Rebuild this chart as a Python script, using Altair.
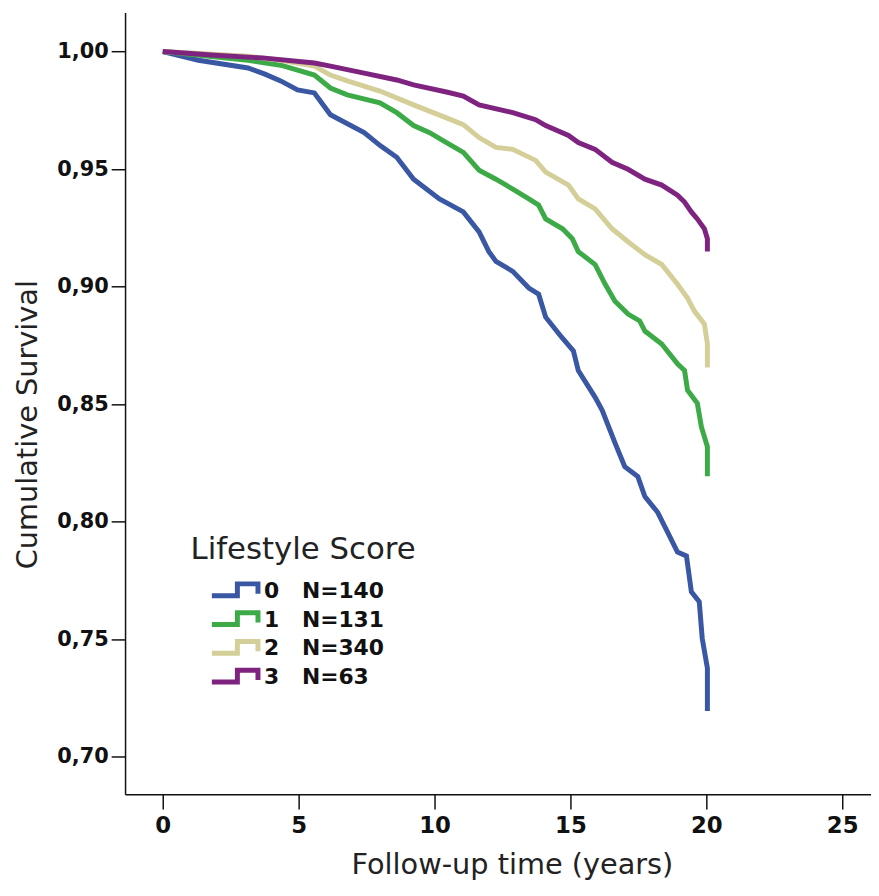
import altair as alt
import pandas as pd

# ---- data ----
scores = ["0", "1", "2", "3"]
n_counts = [140, 131, 340, 63]
colors = ["#3A57A3", "#3DAA48", "#D4CF98", "#7E237F"]

t0 = [0, 1.31, 3.14, 3.76, 4.34, 4.96, 5.58, 6.17, 7.41, 8.0, 8.61, 9.23, 10.18, 11.06, 11.64, 12.0,
      12.26, 12.88, 13.47, 13.83, 14.09, 14.67, 15.11, 15.29, 15.91, 16.17, 16.64, 17.0, 17.48, 17.74,
      18.21, 18.58, 18.94, 19.27, 19.45, 19.74, 19.85, 20.04, 20.04]
s0 = [1.0, 0.9963, 0.993, 0.9904, 0.9875, 0.9837, 0.9824, 0.9731, 0.9655, 0.960, 0.955, 0.9457, 0.9373,
      0.9318, 0.9233, 0.9149, 0.9107, 0.9065, 0.8994, 0.8968, 0.887, 0.8786, 0.8727, 0.8643, 0.8529,
      0.8474, 0.8335, 0.8234, 0.8192, 0.8107, 0.804, 0.7955, 0.7871, 0.7854, 0.7702, 0.766, 0.7504,
      0.7377, 0.7195]

t1 = [0, 3.14, 4.34, 5.58, 6.17, 6.79, 7.99, 8.61, 9.23, 9.82, 10.44, 11.06, 11.64, 12.26, 12.88, 13.47,
      13.83, 14.09, 14.71, 15.07, 15.29, 15.91, 16.28, 16.64, 17.12, 17.55, 17.74, 18.36, 18.94, 19.2,
      19.31, 19.67, 19.82, 20.04, 20.04]
s1 = [1.0, 0.9963, 0.9942, 0.99, 0.9845, 0.9816, 0.9782, 0.974, 0.9685, 0.9655, 0.9613, 0.9571, 0.9495,
      0.9457, 0.9415, 0.9373, 0.9347, 0.9288, 0.9246, 0.9204, 0.9149, 0.9094, 0.901, 0.8938, 0.8883,
      0.8854, 0.8811, 0.8756, 0.8672, 0.8643, 0.8559, 0.8504, 0.8403, 0.8319, 0.8193]

t2 = [0, 3.14, 4.34, 5.58, 6.17, 6.79, 7.99, 9.23, 10.44, 11.06, 11.64, 12.26, 12.88, 13.72, 14.09, 14.93,
      15.29, 15.91, 16.53, 17.12, 17.74, 18.36, 18.94, 19.31, 19.56, 19.93, 20.04, 20.04]
s2 = [1.0, 0.998, 0.9963, 0.9938, 0.99, 0.9875, 0.9832, 0.9773, 0.9718, 0.9689, 0.9634, 0.9592, 0.9584,
      0.9537, 0.9487, 0.9432, 0.9373, 0.9331, 0.9246, 0.9191, 0.9136, 0.9094, 0.901, 0.8951, 0.8896,
      0.8841, 0.8757, 0.8656]

t3 = [0, 1.93, 3.76, 5.58, 6.17, 7.41, 8.61, 9.23, 10.44, 11.06, 11.64, 12.88, 13.72, 14.09, 14.93, 15.29,
      15.91, 16.53, 17.12, 17.74, 18.36, 18.94, 19.2, 19.45, 19.67, 19.93, 20.04, 20.04]
s3 = [1.0, 0.9984, 0.9972, 0.9951, 0.9938, 0.9908, 0.9879, 0.9858, 0.9828, 0.9811, 0.9773, 0.974, 0.971,
      0.9685, 0.9643, 0.9613, 0.9584, 0.9529, 0.9499, 0.9457, 0.9432, 0.9389, 0.936, 0.9318, 0.9288,
      0.9246, 0.9204, 0.9149]

x_ticks = [0, 5, 10, 15, 20, 25]
y_ticks = [0.70, 0.75, 0.80, 0.85, 0.90, 0.95, 1.00]

# ---- table ----
rows = []
idx = 0
for sc, ts, ss in zip(scores, [t0, t1, t2, t3], [s0, s1, s2, s3]):
    for t, s in zip(ts, ss):
        rows.append({"score": sc, "time": t, "surv": s, "idx": idx})
        idx += 1
df = pd.DataFrame(rows)

NB = "\u00a0"
label_map = ", ".join(
    f"'{sc}': '{sc}{NB*3}N={n}'" for sc, n in zip(scores, n_counts)
)
label_expr = "{" + label_map + "}[datum.label]"

step_symbol = "M-1,0.2H0.03V-0.28H0.86V0.12"

chart = (
    alt.Chart(df)
    .mark_line(strokeWidth=5, strokeJoin="miter", strokeCap="butt", clip=False)
    .encode(
        x=alt.X(
            "time:Q",
            scale=alt.Scale(domain=[-1.387, 26.06], nice=False, zero=False),
            axis=alt.Axis(
                values=x_ticks,
                title="Follow-up time (years)",
                grid=False,
                domainColor="#111", domainWidth=1.5,
                tickColor="#111", tickWidth=1.5, tickSize=15,
                labelFont="DejaVu Sans", labelFontWeight="bold", labelFontSize=23,
                labelColor="#111", labelPadding=6, labelFlush=False, labelOverlap=False,
                titleFont="DejaVu Sans", titleFontWeight="normal", titleFontSize=29,
                titleColor="#222", titleX=390, titleY=80, titleBaseline="alphabetic",
                titleAlign="center",
            ),
        ),
        y=alt.Y(
            "surv:Q",
            scale=alt.Scale(domain=[0.6841, 1.0166], nice=False, zero=False),
            axis=alt.Axis(
                values=y_ticks,
                labelExpr="replace(format(datum.value, '.2f'), '.', ',')",
                title="Cumulative Survival",
                grid=False,
                domainColor="#111", domainWidth=1.5,
                tickColor="#111", tickWidth=1.5, tickSize=14,
                labelFont="DejaVu Sans", labelFontWeight="bold", labelFontSize=21,
                labelColor="#111", labelPadding=3, labelFlush=False, labelOverlap=False,
                titleFont="DejaVu Sans", titleFontWeight="normal", titleFontSize=29,
                titleColor="#222", titleX=-98, titleY=415, titleBaseline="middle",
                titleAlign="center", titleAngle=270,
            ),
        ),
        color=alt.Color(
            "score:N",
            scale=alt.Scale(domain=scores, range=colors),
            legend=alt.Legend(
                title="Lifestyle Score",
                orient="none", legendX=66, legendY=527, padding=0,
                direction="vertical",
                titleFont="DejaVu Sans", titleFontSize=31, titleFontWeight="normal",
                titleColor="#222", titlePadding=14, titleLimit=400,
                labelFont="DejaVu Sans", labelFontSize=22, labelFontWeight="bold",
                labelColor="#111", labelLimit=400, labelExpr=label_expr,
                symbolType=step_symbol, symbolSize=2500, symbolStrokeWidth=5,
                symbolFillColor="transparent",
                symbolOffset=19, labelOffset=0, clipHeight=22, rowPadding=7,
            ),
        ),
        order=alt.Order("idx:Q"),
    )
    .properties(
        width=752,
        height=788,
        autosize=alt.AutoSizeParams(type="none"),
        padding={"left": 118, "top": 1, "right": 0, "bottom": 87},
    )
    .configure_view(stroke=None)
)

chart.save("out.html", embed_options={"renderer": "svg", "actions": False})
